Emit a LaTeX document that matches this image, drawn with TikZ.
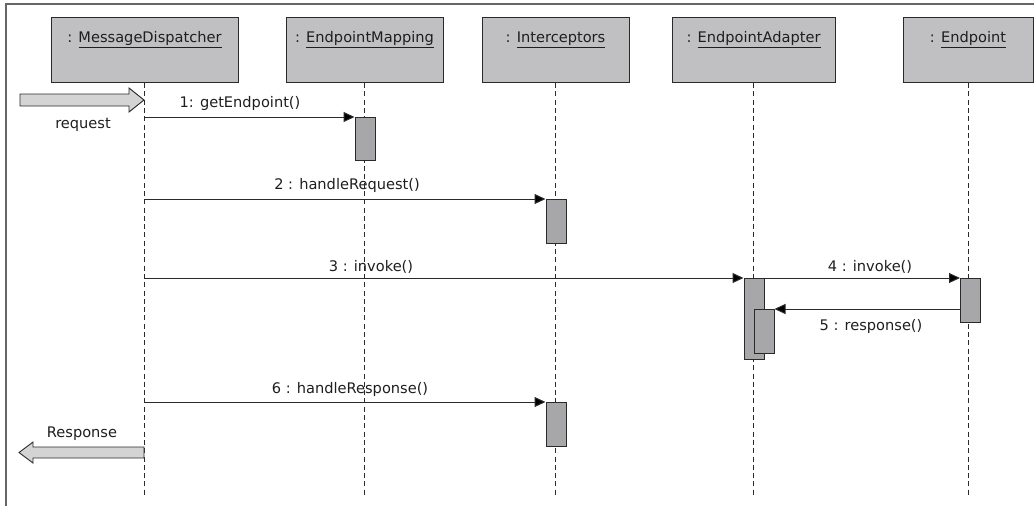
\documentclass[tikz,border=0pt]{standalone}
\usepackage{fontspec}
\setmainfont{DejaVu Sans}
\usetikzlibrary{arrows.meta,calc}
\definecolor{headgray}{HTML}{C0C0C2}
\definecolor{actgray}{HTML}{A7A7AA}
\definecolor{blockgray}{HTML}{D4D4D4}
\definecolor{linegray}{HTML}{2A2A2A}
\definecolor{framegray}{HTML}{666666}
\definecolor{txtcol}{HTML}{1E1E1E}
\begin{document}
\begin{tikzpicture}[x=1pt,y=-1pt,
 font=\fontsize{14.6}{16}\selectfont, text=txtcol,
 head/.style={draw=linegray, line width=1pt, fill=headgray, inner sep=0pt, minimum height=65pt, text height=25pt, text depth=40pt, anchor=north},
 act/.style={draw=linegray, line width=1pt, fill=actgray, inner sep=0pt, minimum width=20pt, anchor=north west},
 life/.style={draw=linegray, line width=0.9pt, dash pattern=on 5pt off 3.3pt},
 msg/.style={draw=linegray, line width=1pt, -{Triangle[length=11pt,width=10pt,fill=black]}},
 lbl/.style={anchor=base, inner sep=0pt},
 block/.style={draw=linegray, line width=0.9pt, fill=blockgray}]
\useasboundingbox (0,0) rectangle (1034,506);
% frame
\draw[framegray, line width=1.5pt] (6,506) -- (6,4) -- (1034,4);
% heads
\node[head, minimum width=187pt] (md) at (144.5,17) {: \underline{MessageDispatcher}};
\node[head, minimum width=157pt] (em) at (364.5,17) {: \underline{EndpointMapping}};
\node[head, minimum width=147pt] (ic) at (555.5,17) {: \underline{Interceptors}};
\node[head, minimum width=163pt] (ea) at (753.5,17) {: \underline{EndpointAdapter}};
\node[head, minimum width=130pt] (ep) at (968,17) {: \underline{Endpoint}};
% lifeline ends
\coordinate (mdE) at (md.south |- 0,497);
\coordinate (emE) at (em.south |- 0,497);
\coordinate (icE) at (ic.south |- 0,497);
\coordinate (eaE) at (ea.south |- 0,497);
\coordinate (epE) at (ep.south |- 0,497);
\draw[life] (md.south) -- (mdE);
\draw[life] (em.south) -- (emE);
\draw[life] (ic.south) -- (icE);
\draw[life] (ea.south) -- (eaE);
\draw[life] (ep.south) -- (epE);
% activations
\node[act, minimum height=43pt] (a1) at (354.5,117) {};
\node[act, minimum height=44pt] (a2) at (545.5,199) {};
\node[act, minimum height=81pt] (a3) at (743.5,278) {};
\node[act, minimum height=44pt] (a4) at (753.5,309) {};
\node[act, minimum height=44pt] (a5) at (960,278) {};
\node[act, minimum height=44pt] (a6) at (545.5,402) {};
% message start points
\coordinate (s1) at (md.south |- a1.north);
\coordinate (s2) at (md.south |- a2.north);
\coordinate (s3) at (md.south |- a3.north);
\coordinate (s6) at (md.south |- a6.north);
\coordinate (s5) at (a5.west |- a4.north);
% messages
\draw[msg] (s1) -- (a1.north west);
\draw[msg] (s2) -- (a2.north west);
\draw[msg] (s3) -- (a3.north west);
\draw[msg] (a3.north east) -- (a5.north west);
\draw[msg] (s5) -- (a4.north east);
\draw[msg] (s6) -- (a6.north west);
% labels
\node[lbl] (l1) at (240,107) {1: getEndpoint()};
\node[lbl] (l2) at (347,189) {2 : handleRequest()};
\node[lbl] (l3) at (371,271) {3 : invoke()};
\node[lbl] (l4) at (870,271) {4 : invoke()};
\node[lbl] (l5) at (871,330) {5 : response()};
\node[lbl] (l6) at (350,393) {6 : handleResponse()};
% block arrows
\draw[block] (20,94) -- (129,94) -- (129,88) -- (144,100) -- (129,112) -- (129,106) -- (20,106) -- cycle;
\node[lbl] (req) at (83,128) {request};
\draw[block] (144,447) -- (33,447) -- (33,442) -- (19,452.5) -- (33,463) -- (33,458) -- (144,458) -- cycle;
\node[lbl] (resp) at (82,437) {Response};
\end{tikzpicture}
\end{document}
